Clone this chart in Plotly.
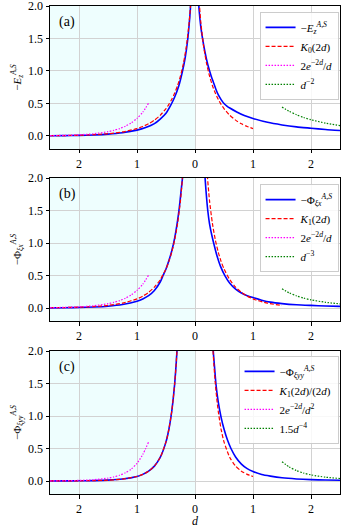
# Campos -E_z e -Phi ao redor da interface (painéis a, b, c)

# %% Bibliotecas
import plotly.graph_objects as go
from plotly.subplots import make_subplots

# %% Dados

# eixo x comum
x_ticks = [-2, -1, 0, 1, 2]
x_tick_labels = ["2", "1", "0", "1", "2"]
y_ticks = [0.0, 0.5, 1.0, 1.5, 2.0]
y_tick_labels = ["0.0", "0.5", "1.0", "1.5", "2.0"]

# (a) -E_z^{A,S}
a_azul_x_esq = [-2.5, -2.25, -2.0, -1.75, -1.5, -1.25, -1.0, -0.85, -0.7, -0.6, -0.5,
                -0.42, -0.35, -0.28, -0.22, -0.17, -0.13, -0.1, -0.08, -0.06]
a_azul_y_esq = [0.003, 0.005, 0.009, 0.016, 0.028, 0.05, 0.09, 0.13, 0.19, 0.26, 0.35,
                0.47, 0.6, 0.77, 0.98, 1.2, 1.45, 1.72, 1.95, 2.3]
a_azul_x_dir = [0.05, 0.07, 0.1, 0.13, 0.17, 0.22, 0.28, 0.32, 0.36, 0.4, 0.45, 0.5,
                0.55, 0.6, 0.72, 0.85, 1.0, 1.25, 1.5, 1.75, 2.0, 2.25, 2.5]
a_azul_y_dir = [2.3, 1.95, 1.68, 1.5, 1.3, 1.1, 0.92, 0.82, 0.72, 0.635, 0.56, 0.5,
                0.46, 0.43, 0.37, 0.315, 0.27, 0.21, 0.17, 0.14, 0.12, 0.1, 0.085]

# (a) K0(2d)
a_verm_x = [-2.5, -2.25, -2.0, -1.75, -1.5, -1.25, -1.0, -0.9, -0.8, -0.7, -0.6, -0.5,
            -0.45, -0.4, -0.35, -0.3, -0.25, -0.2, -0.15, -0.1, -0.07, -0.05, None,
            0.05, 0.07, 0.1, 0.15, 0.2, 0.25, 0.3, 0.35, 0.4, 0.45, 0.5, 0.6, 0.7,
            0.8, 0.9, 1.0]
a_verm_y = [0.0037, 0.0064, 0.011, 0.020, 0.035, 0.062, 0.114, 0.146, 0.188, 0.244,
            0.318, 0.421, 0.487, 0.565, 0.661, 0.777, 0.924, 1.115, 1.372, 1.753, 2.1,
            2.43, None,
            2.43, 2.1, 1.753, 1.372, 1.115, 0.924, 0.777, 0.661, 0.565, 0.487, 0.421,
            0.318, 0.244, 0.188, 0.146, 0.114]

# 2e^{-2d}/d (a e b)
mag_x = [-2.5, -2.25, -2.0, -1.75, -1.5, -1.4, -1.3, -1.2, -1.1, -1.0, -0.9, -0.8]
mag_y = [0.0054, 0.0099, 0.0183, 0.0345, 0.0664, 0.0869, 0.114, 0.151, 0.2015, 0.271,
         0.367, 0.505]

# d^-2 (a)
a_verde_x = [1.5, 1.625, 1.75, 1.875, 2.0, 2.25, 2.5]
a_verde_y = [0.444, 0.379, 0.327, 0.284, 0.25, 0.198, 0.16]

# (b) -Phi_{xi x}
b_azul_x_esq = [-2.5, -2.25, -2.0, -1.75, -1.5, -1.25, -1.0, -0.9, -0.8, -0.7, -0.6,
                -0.55, -0.5, -0.45, -0.4, -0.35, -0.3, -0.27, -0.24, -0.21, -0.19]
b_azul_y_esq = [0.002, 0.004, 0.008, 0.015, 0.028, 0.054, 0.105, 0.14, 0.19, 0.27, 0.4,
                0.5, 0.6, 0.73, 0.88, 1.08, 1.35, 1.55, 1.8, 2.05, 2.3]
b_azul_x_dir = [0.15, 0.17, 0.19, 0.22, 0.25, 0.29, 0.33, 0.38, 0.44, 0.52, 0.6, 0.7,
                0.8, 0.9, 1.0, 1.15, 1.3, 1.5, 1.75, 2.0, 2.25, 2.5]
b_azul_y_dir = [2.4, 2.05, 1.8, 1.5, 1.3, 1.12, 0.97, 0.8, 0.64, 0.49, 0.38, 0.29,
                0.23, 0.19, 0.16, 0.12, 0.09, 0.068, 0.05, 0.04, 0.031, 0.025]

# (b) K1(2d)
b_verm_x = [-2.5, -2.25, -2.0, -1.75, -1.5, -1.25, -1.0, -0.9, -0.8, -0.7, -0.6, -0.5,
            -0.45, -0.4, -0.35, -0.3, -0.25, -0.2, -0.15, None,
            0.15, 0.2, 0.25, 0.3, 0.35, 0.4, 0.45, 0.5, 0.6, 0.7, 0.8, 0.9, 1.0, 1.25,
            1.5]
b_verm_y = [0.004, 0.0071, 0.0125, 0.022, 0.040, 0.074, 0.140, 0.183, 0.241, 0.321,
            0.435, 0.602, 0.717, 0.862, 1.05, 1.303, 1.656, 2.184, 3.056, None,
            3.056, 2.184, 1.656, 1.303, 1.05, 0.862, 0.717, 0.602, 0.435, 0.321, 0.241,
            0.183, 0.140, 0.074, 0.040]

# d^-3 (b)
b_verde_x = [1.5, 1.625, 1.75, 1.875, 2.0, 2.25, 2.5]
b_verde_y = [0.296, 0.233, 0.187, 0.152, 0.125, 0.0878, 0.064]

# (c) -Phi_{xi yy}
c_azul_x_esq = [-2.5, -2.25, -2.0, -1.75, -1.5, -1.25, -1.0, -0.9, -0.8, -0.7, -0.6,
                -0.5, -0.45, -0.4, -0.375, -0.35, -0.325, -0.3, -0.275]
c_azul_y_esq = [0.0008, 0.0016, 0.0031, 0.0064, 0.013, 0.03, 0.07, 0.102, 0.151, 0.229,
                0.362, 0.602, 0.796, 1.077, 1.27, 1.5, 1.8, 2.17, 2.65]
c_azul_x_dir = [0.3, 0.315, 0.34, 0.36, 0.4, 0.45, 0.5, 0.56, 0.62, 0.7, 0.8, 0.9, 1.0,
                1.15, 1.3, 1.5, 1.75, 2.0, 2.25, 2.5]
c_azul_y_dir = [2.3, 2.0, 1.72, 1.5, 1.22, 0.98, 0.8, 0.63, 0.5, 0.37, 0.26, 0.19, 0.145,
                0.1, 0.075, 0.05, 0.032, 0.021, 0.015, 0.011]

# (c) K1(2d)/(2d)
c_verm_x = [-2.5, -2.25, -2.0, -1.75, -1.5, -1.25, -1.0, -0.9, -0.8, -0.7, -0.6, -0.5,
            -0.45, -0.4, -0.375, -0.35, -0.325, -0.3, -0.275, None,
            0.275, 0.3, 0.325, 0.35, 0.375, 0.4, 0.45, 0.5, 0.6, 0.7, 0.8, 0.9, 1.0]
c_verm_y = [0.0008, 0.0016, 0.0031, 0.0064, 0.013, 0.03, 0.07, 0.102, 0.151, 0.229,
            0.362, 0.602, 0.796, 1.077, 1.27, 1.5, 1.8, 2.17, 2.65, None,
            2.65, 2.17, 1.8, 1.5, 1.27, 1.077, 0.796, 0.602, 0.362, 0.229, 0.151, 0.102,
            0.07]

# 2e^{-2d}/d^2 (c)
c_mag_x = [-2.5, -2.25, -2.0, -1.75, -1.5, -1.4, -1.3, -1.2, -1.1, -1.0, -0.9, -0.8]
c_mag_y = [0.0022, 0.0044, 0.0092, 0.0197, 0.0443, 0.062, 0.0879, 0.126, 0.183, 0.271,
           0.408, 0.60]

# 1.5 d^-4 (c)
c_verde_x = [1.5, 1.625, 1.75, 1.875, 2.0, 2.25, 2.5]
c_verde_y = [0.296, 0.215, 0.16, 0.121, 0.094, 0.0585, 0.0384]

# %% Estilos
FONTE = "Liberation Serif"
AZUL = "#0000ff"
VERM = "#ff0000"
MAG = "#ff00ff"
VERDE = "#008000"
TRACO = "4px,2px"
PONTO = "1.5px,1.5px"


def junta(xe, ye, xd, yd):
    # junta os dois ramos com um buraco no meio
    return xe + [None] + xd, ye + [None] + yd


def linha(fig, x, y, nome, cor, dash, larg, row, leg):
    fig.add_trace(go.Scatter(x=x, y=y, mode="lines", name=nome,
                             line=dict(color=cor, dash=dash, width=larg,
                                       shape="spline", smoothing=0.6),
                             legend=leg, showlegend=True),
                  row=row, col=1)


# %% Figura
fig = make_subplots(rows=3, cols=1)

# painel (a)
xa, ya = junta(a_azul_x_esq, a_azul_y_esq, a_azul_x_dir, a_azul_y_dir)
linha(fig, xa, ya, "−<i>E</i><sub><i>z</i></sub><sup><i>A,S</i></sup>", AZUL, "solid", 1.6, 1, "legend")
linha(fig, a_verm_x, a_verm_y, "<i>K</i><sub>0</sub>(2<i>d</i>)", VERM, TRACO, 1.2, 1, "legend")
linha(fig, mag_x, mag_y, "2<i>e</i><sup>−2<i>d</i></sup>/<i>d</i>", MAG, PONTO, 1.2, 1, "legend")
linha(fig, a_verde_x, a_verde_y, "<i>d</i><sup>−2</sup>", VERDE, PONTO, 1.2, 1, "legend")

# painel (b)
xb, yb = junta(b_azul_x_esq, b_azul_y_esq, b_azul_x_dir, b_azul_y_dir)
linha(fig, xb, yb, "−Φ<sub><i>ξx</i></sub><sup><i>A,S</i></sup>", AZUL, "solid", 1.6, 2, "legend2")
linha(fig, b_verm_x, b_verm_y, "<i>K</i><sub>1</sub>(2<i>d</i>)", VERM, TRACO, 1.2, 2, "legend2")
linha(fig, mag_x, mag_y, "2<i>e</i><sup>−2<i>d</i></sup>/<i>d</i>", MAG, PONTO, 1.2, 2, "legend2")
linha(fig, b_verde_x, b_verde_y, "<i>d</i><sup>−3</sup>", VERDE, PONTO, 1.2, 2, "legend2")

# painel (c)
xc, yc = junta(c_azul_x_esq, c_azul_y_esq, c_azul_x_dir, c_azul_y_dir)
linha(fig, xc, yc, "−Φ<sub><i>ξyy</i></sub><sup><i>A,S</i></sup>", AZUL, "solid", 1.6, 3, "legend3")
linha(fig, c_verm_x, c_verm_y, "<i>K</i><sub>1</sub>(2<i>d</i>)/(2<i>d</i>)", VERM, TRACO, 1.2, 3, "legend3")
linha(fig, c_mag_x, c_mag_y, "2<i>e</i><sup>−2<i>d</i></sup>/<i>d</i><sup>2</sup>", MAG, PONTO, 1.2, 3, "legend3")
linha(fig, c_verde_x, c_verde_y, "1.5<i>d</i><sup>−4</sup>", VERDE, PONTO, 1.2, 3, "legend3")

# domínios medidos em pixels (área útil de 6 a 494 px)
dominios = [[0.707, 1.0], [0.3545, 0.6475], [0.0, 0.293]]
titulos_y = ["−<i>E</i><sub><i>z</i></sub><sup><i>A,S</i></sup>",
             "−Φ<sub><i>ξx</i></sub><sup><i>A,S</i></sup>",
             "−Φ<sub><i>ξyy</i></sub><sup><i>A,S</i></sup>"]
rotulos = ["(a)", "(b)", "(c)"]

for i in range(3):
    r = i + 1
    sx = "" if r == 1 else str(r)
    fig.update_xaxes(range=[-2.5, 2.5], tickvals=x_ticks, ticktext=x_tick_labels,
                     showgrid=True, gridcolor="#d2d2d2", gridwidth=1, zeroline=False,
                     showline=True, linecolor="black", linewidth=1, mirror=True,
                     ticks="outside", ticklen=3.5, tickcolor="black", automargin=False,
                     tickfont=dict(family=FONTE, size=12, color="black"),
                     row=r, col=1)
    fig.update_yaxes(range=[-0.2, 2.0], domain=dominios[i], tickvals=y_ticks,
                     ticktext=y_tick_labels,
                     showgrid=True, gridcolor="#d2d2d2", gridwidth=1, zeroline=False,
                     showline=True, linecolor="black", linewidth=1, mirror=True,
                     ticks="outside", ticklen=3.5, tickcolor="black", automargin=False,
                     ticklabeloverflow="allow",
                     tickfont=dict(family=FONTE, size=12, color="black"),
                     title=dict(text=titulos_y[i], standoff=4,
                                font=dict(family=FONTE, size=11, color="black")),
                     row=r, col=1)
    # faixa ciano do lado esquerdo
    fig.add_shape(type="rect", x0=-2.5, x1=0, y0=0, y1=1, xref="x" + sx,
                  yref="y" + sx + " domain",
                  fillcolor="rgb(238,254,254)", line_width=0, layer="below")
    fig.add_annotation(x=-2.2, y=1.75, xref="x" + sx, yref="y" + sx, text=rotulos[i],
                       showarrow=False, font=dict(family=FONTE, size=14, color="black"))

fig.update_xaxes(title=dict(text="<i>d</i>", standoff=4,
                            font=dict(family=FONTE, size=12, color="black")), row=3, col=1)

estilo_leg = dict(xanchor="right", x=0.995, yanchor="top",
                  bgcolor="rgba(255,255,255,0.85)", bordercolor="#cccccc", borderwidth=1,
                  font=dict(family=FONTE, size=11, color="black"), itemwidth=30,
                  tracegroupgap=0)

fig.update_layout(
    width=341, height=528,
    margin=dict(l=50, r=1, t=6, b=34),
    plot_bgcolor="white", paper_bgcolor="white",
    legend=dict(estilo_leg, y=0.988),
    legend2=dict(estilo_leg, y=0.635),
    legend3=dict(estilo_leg, y=0.283),
)

# tira a margem padrão do body da página e a barra de ferramentas
fig.write_html("out.html", config={"displayModeBar": False},
               post_script="document.body.style.margin='0';")
